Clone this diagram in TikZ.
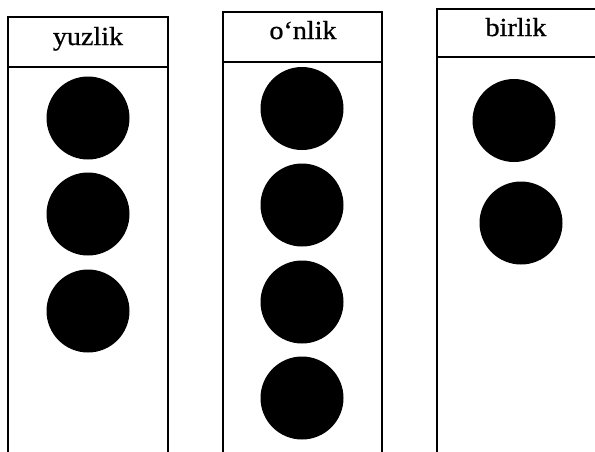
\documentclass[tikz,border=0pt]{standalone}
\usepackage{fontspec}
\setmainfont{Liberation Serif}
\newfontfamily\headfont{Liberation Serif}[FakeBold=0.8]
\begin{document}
\begin{tikzpicture}[x=1pt,y=-1pt,
  frame/.style={line width=1.8pt,line cap=rect},
  bead/.style={circle,fill=black,inner sep=0pt,minimum width=83pt},
  head/.style={anchor=base,inner sep=0pt,font=\headfont\fontsize{26}{30}\selectfont,xscale=1.08}]
\useasboundingbox (0,0) rectangle (595,451);
% column 1: yuzlik
\draw[frame] (8,451) -- (8,17) -- (168,17) -- (168,451);
\draw[frame] (8,67) -- (168,67);
\node[head] (h1) at (88,45) {yuzlik};
\node[bead] (a1) at (88,118) {};
\node[bead] (a2) at (88,214) {};
\node[bead] (a3) at (88,311) {};
% column 2: o'nlik
\draw[frame] (223,451) -- (223,12) -- (382,12) -- (382,451);
\draw[frame] (223,62) -- (382,62);
\node[head] (h2) at (303,39) {o‘nlik};
\node[bead] (b1) at (302,108.5) {};
\node[bead] (b2) at (302,205) {};
\node[bead] (b3) at (302,302) {};
\node[bead] (b4) at (302,398) {};
% column 3: birlik
\draw[frame] (437,451) -- (437,9) -- (595,9);
\draw[frame] (437,57) -- (595,57);
\node[head] (h3) at (516,36) {birlik};
\node[bead] (c1) at (514,120.5) {};
\node[bead] (c2) at (521,223) {};
\end{tikzpicture}
\end{document}
